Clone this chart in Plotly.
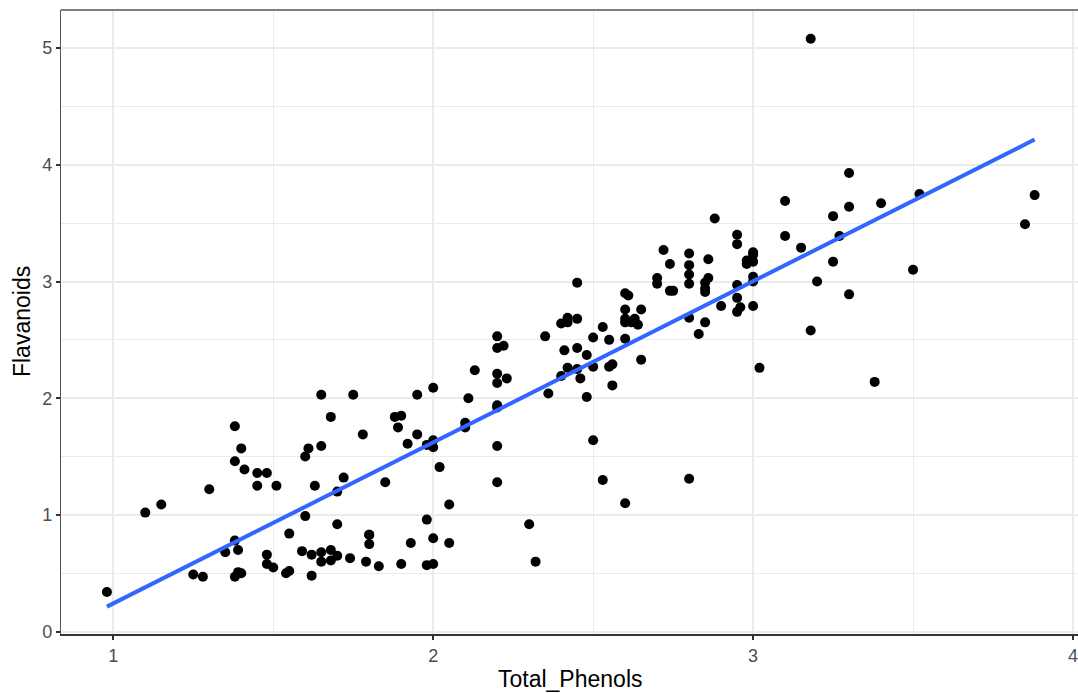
import numpy as np
import plotly.graph_objects as go

total_phenols = [
    2.8, 2.65, 2.8, 3.85, 2.8, 3.27, 2.5, 2.6, 2.8, 2.98, 2.95, 2.2, 2.6, 3.1, 3.3, 2.85, 2.8, 2.95, 3.3, 2.7,
    3.0, 2.41, 2.61, 2.48, 2.53, 2.63, 2.85, 2.4, 2.95, 2.65, 3.0, 2.86, 2.42, 2.95, 2.35, 2.7, 2.6, 2.45, 2.4, 3.0,
    3.15, 2.45, 3.25, 2.64, 3.0, 2.85, 3.25, 3.1, 2.75, 2.88, 2.72, 2.45, 3.88, 3.0, 2.6, 2.96, 3.2, 3.0, 3.4,
    1.98, 2.05, 2.02, 2.1, 3.5, 1.89, 2.42, 2.98, 2.11, 2.53, 1.85, 1.1, 2.95, 1.88, 3.3, 3.38, 1.61, 1.95, 1.72, 1.9,
    2.83, 2.42, 2.2, 2.0, 1.65, 2.2, 2.2, 1.78, 1.92, 1.95, 2.2, 1.6, 1.45, 1.38, 2.45, 3.02, 2.5, 1.6, 2.55, 3.52,
    2.85, 2.23, 1.45, 2.56, 2.5, 2.2, 1.68, 1.65, 1.38, 2.36, 2.74, 3.18, 2.55, 1.75, 2.48, 2.56, 2.46, 1.98, 2.0, 1.63,
    2.0, 2.9, 3.18, 2.2, 2.62, 2.86, 2.6, 2.74, 2.13, 2.22, 2.1,
    1.51, 1.3, 1.15, 1.7, 2.0, 1.62, 1.38, 1.79, 1.62, 2.32, 1.54, 1.4, 1.55, 2.0, 1.38, 1.5, 0.98, 1.7, 1.93, 1.41,
    1.4, 1.48, 2.2, 1.8, 1.48, 1.74, 1.8, 1.9, 2.8, 2.6, 2.3, 1.83, 1.65, 1.39, 1.35, 1.28, 1.7, 1.48, 1.55, 1.98,
    1.25, 1.39, 1.68, 1.68, 1.8, 1.59, 1.65, 2.05,
]
flavanoids = [
    3.06, 2.76, 3.24, 3.49, 2.69, 3.39, 2.52, 2.51, 2.98, 3.15, 3.32, 2.43, 2.76, 3.69, 3.64, 2.91, 3.14, 3.4, 3.93, 3.03,
    3.17, 2.41, 2.88, 2.37, 2.61, 2.68, 2.94, 2.19, 2.97, 2.33, 3.25, 3.19, 2.69, 2.74, 2.53, 2.98, 2.68, 2.43, 2.64, 3.04,
    3.29, 2.68, 3.56, 2.63, 3.0, 2.65, 3.17, 3.39, 2.92, 3.54, 3.27, 2.99, 3.74, 2.79, 2.9, 2.78, 3.0, 3.23, 3.67,
    0.57, 1.09, 1.41, 1.79, 3.1, 1.75, 2.65, 3.18, 2.0, 1.3, 1.28, 1.02, 2.86, 1.84, 2.89, 2.14, 1.57, 2.03, 1.32, 1.85,
    2.55, 2.26, 2.53, 1.58, 1.59, 2.21, 1.94, 1.69, 1.61, 1.69, 1.59, 1.5, 1.25, 1.46, 2.25, 2.26, 2.27, 0.99, 2.5, 3.75,
    2.99, 2.17, 1.36, 2.11, 1.64, 1.92, 1.84, 2.03, 1.76, 2.04, 2.92, 2.58, 2.27, 2.03, 2.01, 2.29, 2.17, 1.6, 2.09, 1.25,
    1.64, 2.79, 5.08, 2.13, 2.65, 3.03, 2.65, 3.15, 2.24, 2.45, 1.75,
    1.25, 1.22, 1.09, 1.2, 0.58, 0.66, 0.47, 0.6, 0.48, 0.6, 0.5, 0.5, 0.52, 0.8, 0.78, 0.55, 0.34, 0.65, 0.76, 1.39,
    1.57, 1.36, 1.28, 0.83, 0.58, 0.63, 0.83, 0.58, 1.31, 1.1, 0.92, 0.56, 0.6, 0.7, 0.68, 0.47, 0.92, 0.66, 0.84, 0.96,
    0.49, 0.51, 0.7, 0.61, 0.75, 0.69, 0.68, 0.76,
]
x_ticks = [1, 2, 3, 4]
y_ticks = [0, 1, 2, 3, 4, 5]

x = np.array(total_phenols)
y = np.array(flavanoids)
slope, intercept = np.polyfit(x, y, 1)
fit_x = np.linspace(x.min(), x.max(), 80)
fit_y = slope * fit_x + intercept

fig = go.Figure()
fig.add_trace(go.Scatter(x=total_phenols, y=flavanoids, mode="markers",
                         marker=dict(color="black", size=10, line=dict(width=0)),
                         showlegend=False, hoverinfo="x+y"))
fig.add_trace(go.Scatter(x=fit_x, y=fit_y, mode="lines",
                         line=dict(color="#3366FF", width=4),
                         showlegend=False, hoverinfo="skip"))

grid = "#EBEBEB"
fig.update_layout(
    width=1078, height=693,
    margin=dict(l=61, r=0, t=10, b=59),
    paper_bgcolor="white", plot_bgcolor="white",
    font=dict(family="Liberation Sans, Arial, sans-serif", color="#4D4D4D"),
    xaxis=dict(range=[0.8365, 4.0156], tickvals=x_ticks, ticktext=[str(t) for t in x_ticks],
               showgrid=True, gridcolor=grid, gridwidth=1.5, zeroline=False,
               minor=dict(dtick=0.5, tick0=0, showgrid=True, gridcolor=grid, gridwidth=0.8),
               ticks="outside", ticklen=4, tickwidth=1.5, tickcolor="#333333",
               tickfont=dict(size=18, color="#4D4D4D"), ticklabeloverflow="allow",
               showline=True, linecolor="#333333", linewidth=2),
    yaxis=dict(range=[-0.02, 5.326], tickvals=y_ticks, ticktext=[str(t) for t in y_ticks],
               showgrid=True, gridcolor=grid, gridwidth=1.5, zeroline=False,
               minor=dict(dtick=0.5, tick0=0, showgrid=True, gridcolor=grid, gridwidth=0.8),
               ticks="outside", ticklen=4, tickwidth=1.5, tickcolor="#333333",
               tickfont=dict(size=18, color="#4D4D4D"),
               showline=True, linecolor="#555555", linewidth=1.2),
    shapes=[dict(type="line", xref="paper", yref="paper", x0=0, x1=1, y0=1, y1=1,
                 line=dict(color="#555555", width=1.5))],
    annotations=[
        dict(text="Total_Phenols", xref="x", yref="paper", x=2.43, y=-0.072,
             showarrow=False, xanchor="center", yanchor="middle",
             font=dict(size=23, color="black")),
        dict(text="Flavanoids", xref="paper", yref="paper", x=-0.0383, y=0.5,
             showarrow=False, xanchor="center", yanchor="middle", textangle=-90,
             font=dict(size=23, color="black")),
    ],
)

fig.write_html("out.html", config={"displayModeBar": False},
               post_script="document.body.style.margin='0';document.body.style.overflow='hidden';")
